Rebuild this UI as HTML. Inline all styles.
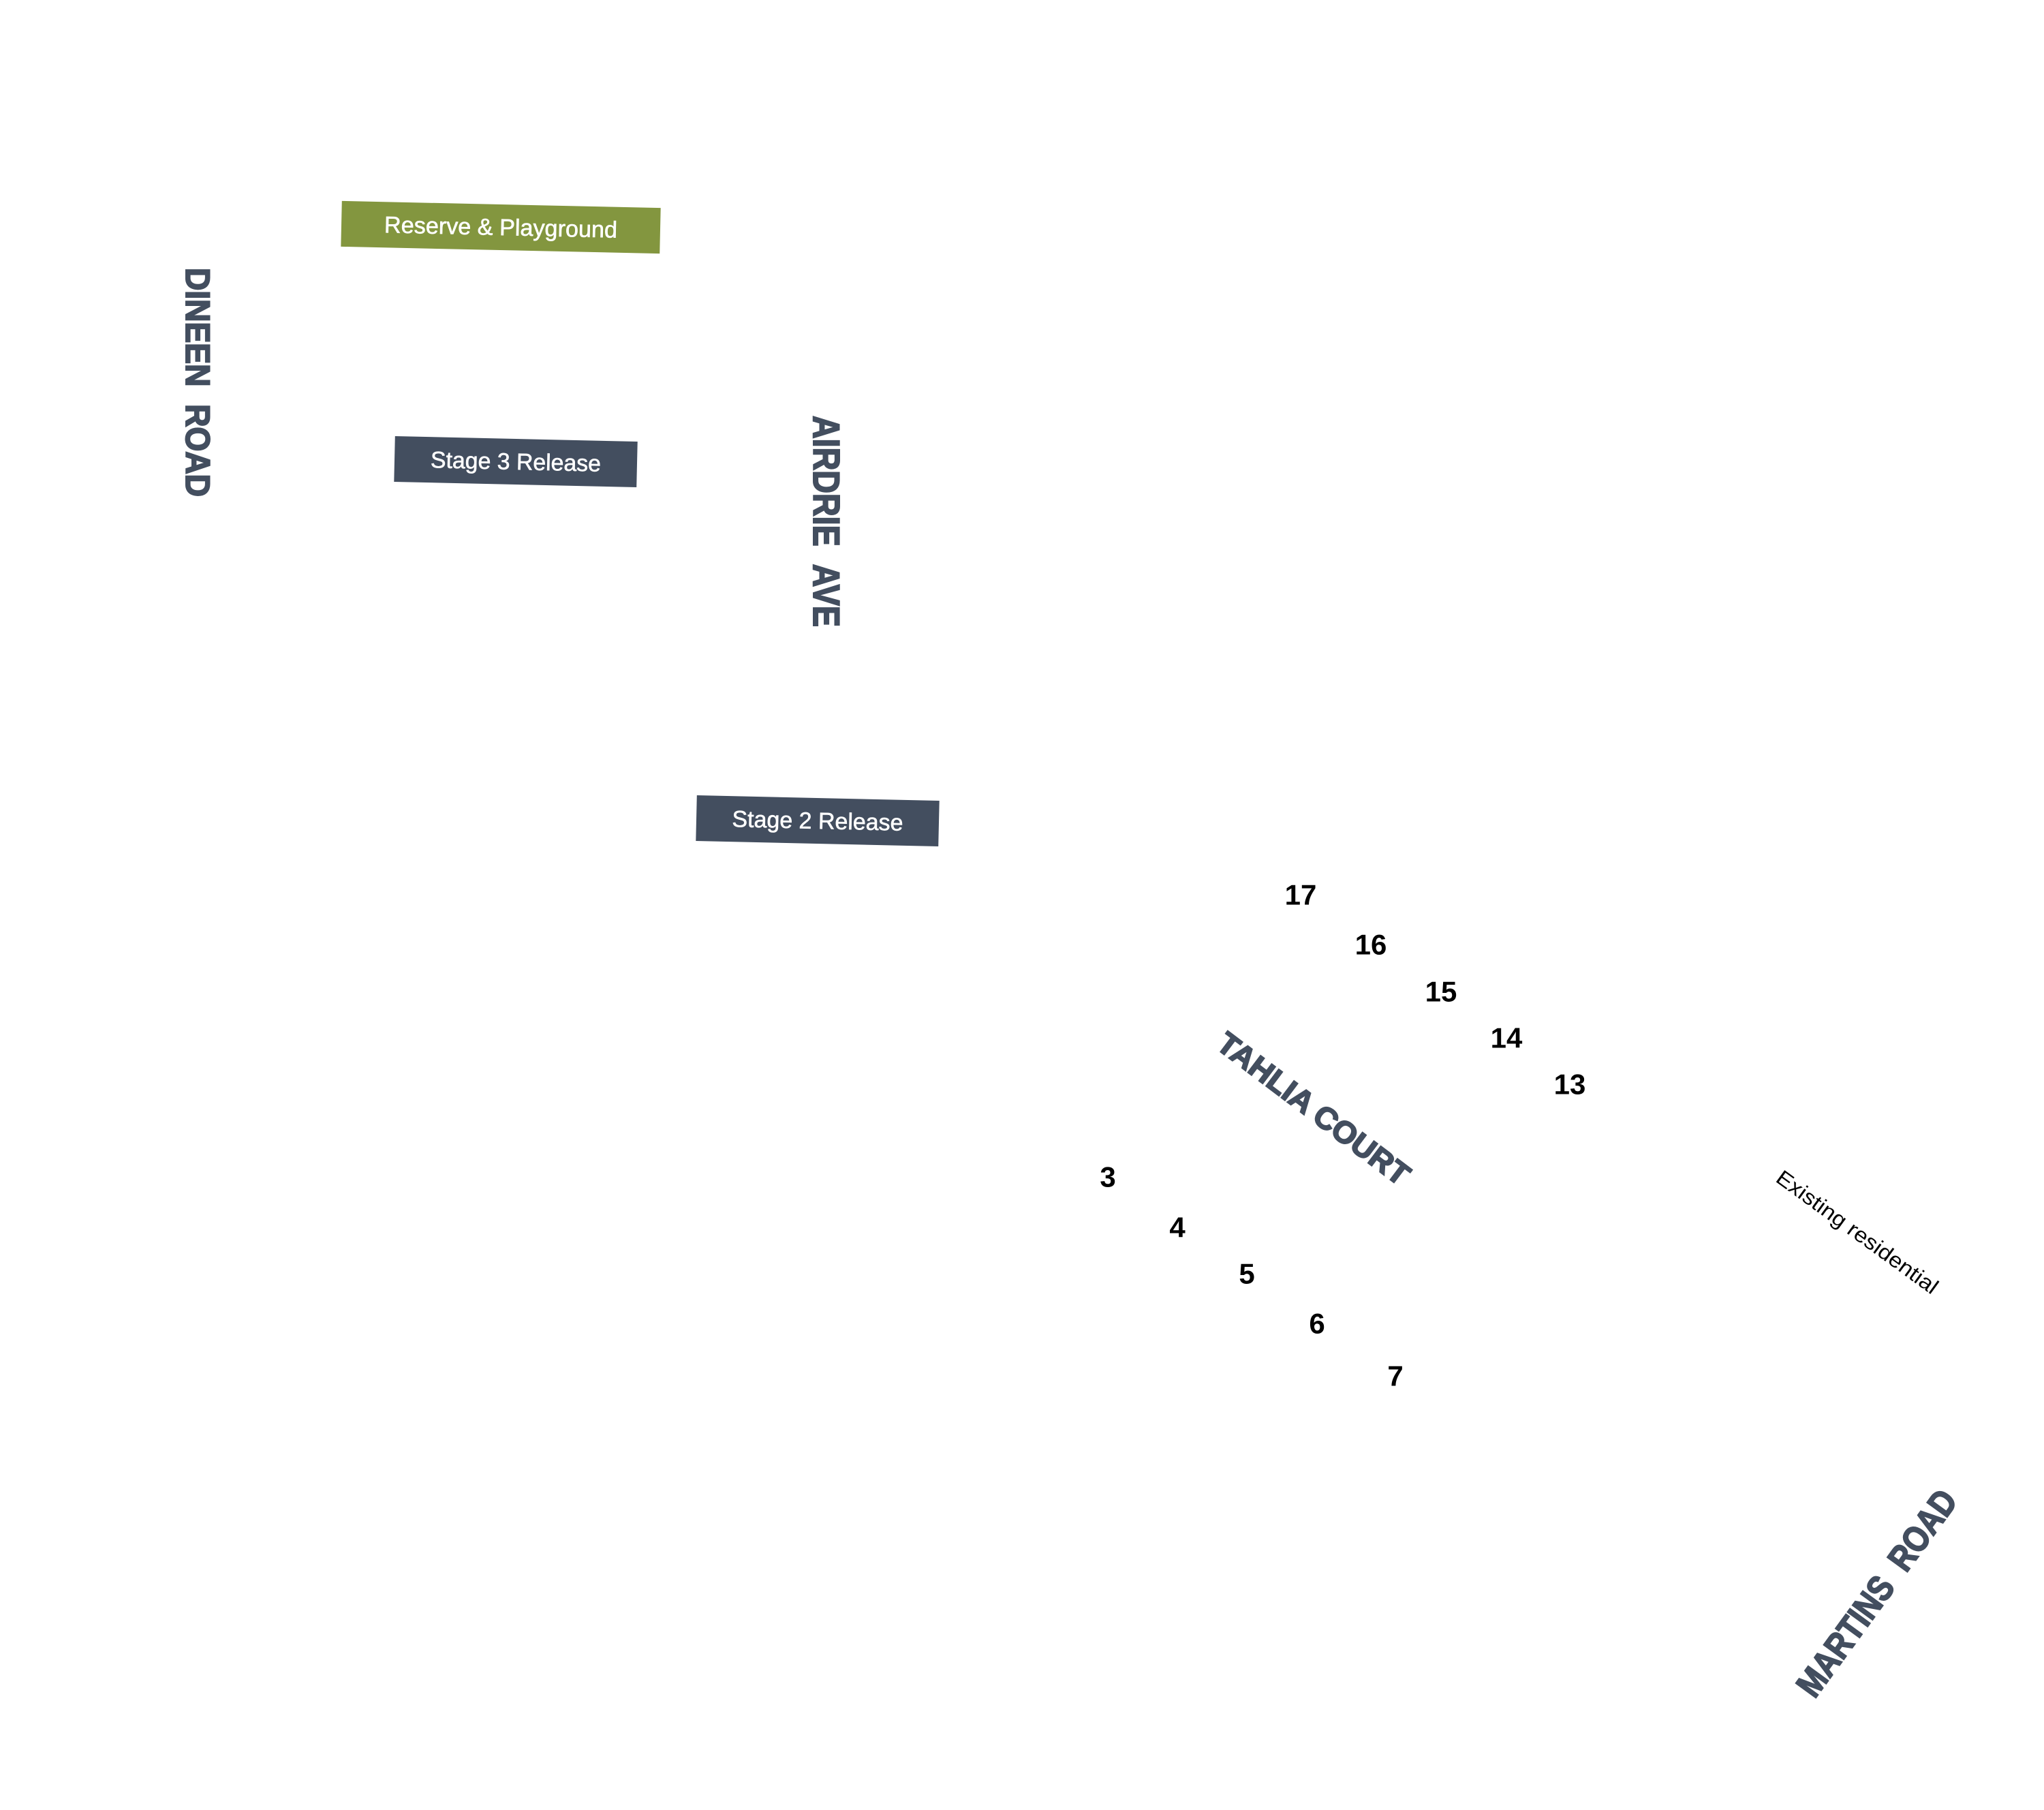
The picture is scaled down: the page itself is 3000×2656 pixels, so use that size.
<!DOCTYPE html>
<html><head><meta charset="utf-8"><style>
html,body{margin:0;padding:0;background:#fff;}
svg{display:block;}
text{font-family:"Liberation Sans",sans-serif;}
</style></head><body>
<svg width="3000" height="2656" viewBox="0 0 3000 2656" xmlns="http://www.w3.org/2000/svg">
<rect width="3000" height="2656" fill="#fff"/>
<g transform="translate(735,334) rotate(1.25)">
<rect x="-234" y="-34" width="468" height="67" fill="#83963f"/>
<text x="0" y="0" dominant-baseline="central" text-anchor="middle" font-size="34" fill="#fff" stroke="#fff" stroke-width="0.6" textLength="342" lengthAdjust="spacingAndGlyphs">Reserve &amp; Playground</text>
</g>
<g transform="translate(757,678) rotate(1.3)">
<rect x="-178" y="-34" width="356" height="67" fill="#434e5f"/>
<text x="0" y="0" dominant-baseline="central" text-anchor="middle" font-size="34" fill="#fff" stroke="#fff" stroke-width="0.6" textLength="250" lengthAdjust="spacingAndGlyphs">Stage 3 Release</text>
</g>
<g transform="translate(1200,1205) rotate(1.3)">
<rect x="-178" y="-34" width="356" height="67" fill="#434e5f"/>
<text x="0" y="0" dominant-baseline="central" text-anchor="middle" font-size="34" fill="#fff" stroke="#fff" stroke-width="0.6" textLength="251" lengthAdjust="spacingAndGlyphs">Stage 2 Release</text>
</g>
<g fill="#434e5f" stroke="#434e5f" stroke-width="2" font-weight="bold">
<text transform="translate(290,561) rotate(90)" dominant-baseline="central" text-anchor="middle" font-size="50" textLength="336" lengthAdjust="spacingAndGlyphs">DINEEN&#160;&#160;ROAD</text>
<text transform="translate(1213,765) rotate(90)" dominant-baseline="central" text-anchor="middle" font-size="55" textLength="310" lengthAdjust="spacingAndGlyphs">AIRDRIE&#160;&#160;AVE</text>
<text transform="translate(1928,1627) rotate(37)" dominant-baseline="central" text-anchor="middle" font-size="45" textLength="340" lengthAdjust="spacingAndGlyphs">TAHLIA COURT</text>
<text transform="translate(2755,2338) rotate(-54)" dominant-baseline="central" text-anchor="middle" font-size="53" textLength="360" lengthAdjust="spacingAndGlyphs">MARTINS&#160;&#160;ROAD</text>
</g>
<text transform="translate(2726,1808) rotate(36)" dominant-baseline="central" text-anchor="middle" font-size="31" fill="#000" textLength="285" lengthAdjust="spacingAndGlyphs">Existing residential</text>
<g fill="#000" font-size="42" font-weight="bold" text-anchor="middle" dominant-baseline="central">
<text x="1909" y="1313">17</text>
<text x="2012" y="1386">16</text>
<text x="2115" y="1455">15</text>
<text x="2211" y="1523">14</text>
<text x="2304" y="1591">13</text>
<text x="1626" y="1727">3</text>
<text x="1728" y="1801">4</text>
<text x="1830" y="1869">5</text>
<text x="1933" y="1942">6</text>
<text x="2048" y="2019">7</text>
</g>
</svg>
</body></html>
